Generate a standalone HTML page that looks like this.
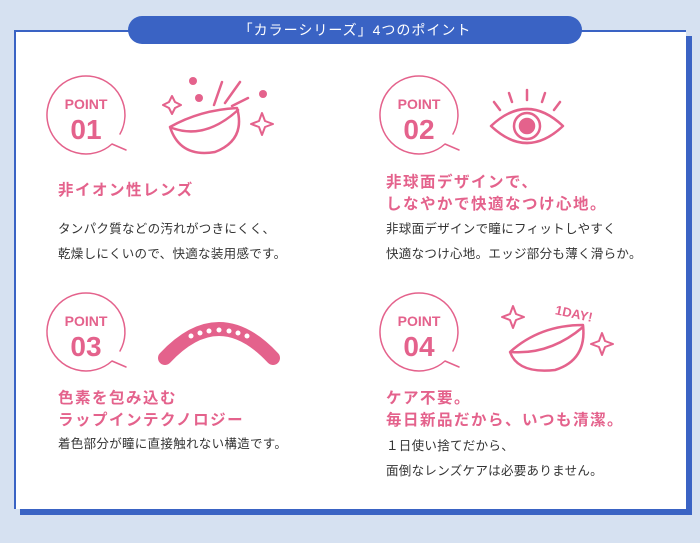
<!DOCTYPE html>
<html><head><meta charset="utf-8"><style>
body{margin:0;width:700px;height:543px;background:#d6e1f1;position:relative;overflow:hidden;font-family:"Liberation Sans","Noto Sans CJK JP",sans-serif}
.card{position:absolute;left:14px;top:30px;width:670px;height:477px;background:#fff;border-left:2px solid #3a63c4;border-top:2px solid #3a63c4;box-shadow:6px 6px 0 #3a63c4}
.pill{position:absolute;left:128px;top:16px;width:454px;height:28px;border-radius:14px;background:#3a63c4;color:#fff;font-size:14px;line-height:28px;text-align:center;letter-spacing:1px}
.h{position:absolute;color:#e4628c;font-size:15.5px;font-weight:bold;line-height:22px;letter-spacing:1.5px}
.t{position:absolute;color:#333;font-size:12.5px;line-height:25px;letter-spacing:.3px}
svg{position:absolute;left:0;top:0}
.pt{font-family:"Liberation Sans",sans-serif;font-weight:bold;text-anchor:middle;fill:#e4628c;stroke:none}
</style></head><body>
<div class="card"></div>
<div class="pill">「カラーシリーズ」4つのポイント</div>
<svg width="700" height="543" fill="none" stroke="#e4628c" stroke-width="2.5" stroke-linecap="round" stroke-linejoin="round">
<g stroke-width="1.5" fill="#fff">
<path id="c" d="M120 134 A39 39 0 1 0 112 144 L126 150"/>
<use href="#c" x="333"/><use href="#c" y="217"/><use href="#c" x="333" y="217"/>
</g>
<text class="pt" x="86" y="109" font-size="14">POINT</text><text class="pt" x="86" y="139" font-size="28">01</text>
<text class="pt" x="419" y="109" font-size="14">POINT</text><text class="pt" x="419" y="139" font-size="28">02</text>
<text class="pt" x="86" y="326" font-size="14">POINT</text><text class="pt" x="86" y="356" font-size="28">03</text>
<text class="pt" x="419" y="326" font-size="14">POINT</text><text class="pt" x="419" y="356" font-size="28">04</text>
<text class="pt" x="573" y="318" font-size="13" transform="rotate(12 573 318)">1DAY!</text>
<!-- icon 1 -->
<path d="M170 127 Q200 110 237 108 Q246 140 215 152 Q180 158 170 127 Z"/>
<path d="M172 128 Q205 140 238 110"/>
<path d="M214 105 L222 82 M225 103 L240 82 M232 106 L248 98"/>
<path d="M172 96 l3 6 6 3 -6 3 -3 6 -3 -6 -6 -3 6 -3z M262 113 l3 8 8 3 -8 3 -3 8 -3 -8 -8 -3 8 -3z" stroke-width="2"/>
<g fill="#e4628c" stroke="none"><circle cx="193" cy="81" r="4"/><circle cx="199" cy="98" r="4"/><circle cx="263" cy="94" r="4"/></g>
<!-- eye -->
<path d="M491 126 Q527 92 563 126 Q527 160 491 126 Z"/>
<circle cx="527" cy="126" r="13"/><circle cx="527" cy="126" r="7" fill="#e4628c"/>
<path d="M500 110 l-6-8 M512 102 l-3-9 M527 100 v-10 M542 102 l3-9 M554 110 l6-8"/>
<!-- arc 3 -->
<path d="M165 358 Q219 300 273 358" stroke-width="14"/>
<g fill="#fff" stroke="none"><circle cx="191" cy="336" r="2.5"/><circle cx="200" cy="333" r="2.5"/><circle cx="209" cy="331" r="2.5"/><circle cx="219" cy="330" r="2.5"/><circle cx="229" cy="331" r="2.5"/><circle cx="238" cy="333" r="2.5"/><circle cx="247" cy="336" r="2.5"/></g>
<!-- icon 4 -->
<path d="M510 352 Q540 325 583 325 Q587 360 555 370 Q518 374 510 352 Z"/>
<path d="M511 352 Q550 355 583 327"/>
<path d="M513 306 l3 8 8 3 -8 3 -3 8 -3 -8 -8 -3 8 -3z M602 333 l3 8 8 3 -8 3 -3 8 -3 -8 -8 -3 8 -3z" stroke-width="2"/>
</svg>
<div class="h" style="left:58px;top:180px">非イオン性レンズ</div>
<div class="t" style="left:58px;top:217px">タンパク質などの汚れがつきにくく、<br>乾燥しにくいので、快適な装用感です。</div>
<div class="h" style="left:386px;top:172px">非球面デザインで、<br>しなやかで快適なつけ心地。</div>
<div class="t" style="left:386px;top:217px">非球面デザインで瞳にフィットしやすく<br>快適なつけ心地。エッジ部分も薄く滑らか。</div>
<div class="h" style="left:58px;top:388px">色素を包み込む<br>ラップインテクノロジー</div>
<div class="t" style="left:58px;top:432px">着色部分が瞳に直接触れない構造です。</div>
<div class="h" style="left:386px;top:388px">ケア不要。<br>毎日新品だから、いつも清潔。</div>
<div class="t" style="left:386px;top:434px">１日使い捨てだから、<br>面倒なレンズケアは必要ありません。</div>
</body></html>
